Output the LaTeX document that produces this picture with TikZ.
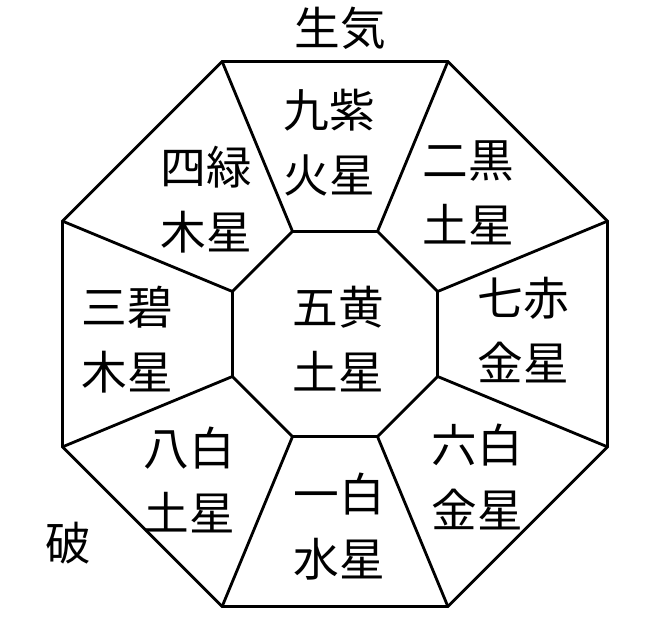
\documentclass[tikz,border=0pt]{standalone}
\usepackage{fontspec}
\setmainfont{Noto Sans CJK JP}

\begin{document}
\begin{tikzpicture}[scale=1.0,
  every node/.style={font=\fontsize{13pt}{18.5pt}\selectfont, align=center, inner sep=0pt},
  edge/.style={line width=0.8pt}]
\useasboundingbox (0,0) rectangle (6.59,6.18);
\coordinate (c) at (3.35,2.84);

\foreach \k in {1,...,8} {
\coordinate (o\k) at ([shift={({22.5+45*(\k-1)}:2.95)}]c);
\coordinate (i\k) at ([shift={({22.5+45*(\k-1)}:1.11)}]c);
}

\draw[edge] (o1) foreach \k in {2,...,8} {-- (o\k)} -- cycle;
\draw[edge] (i1) foreach \k in {2,...,8} {-- (i\k)} -- cycle;
\foreach \k in {1,...,8} {
\draw[edge] (i\k) -- (o\k);
}

\node (kyushi)   at (3.29,4.75) {九紫\\火星};
\node (shiroku)  at (2.06,4.18) {四緑\\木星};
\node (jikoku)   at (4.68,4.25) {二黒\\土星};
\node (sanpeki)  at (1.27,2.78) {三碧\\木星};
\node (goou)     at (3.38,2.79) {五黄\\土星};
\node (shiseki)  at (5.23,2.88) {七赤\\金星};
\node (happaku)  at (1.89,1.38) {八白\\土星};
\node (ippaku)   at (3.39,0.91) {一白\\水星};
\node (roppaku)  at (4.77,1.41) {六白\\金星};

\node (seiki) at (3.40,5.90) {生気};
\node (ha)    at (0.68,0.75) {破};
\end{tikzpicture}
\end{document}
